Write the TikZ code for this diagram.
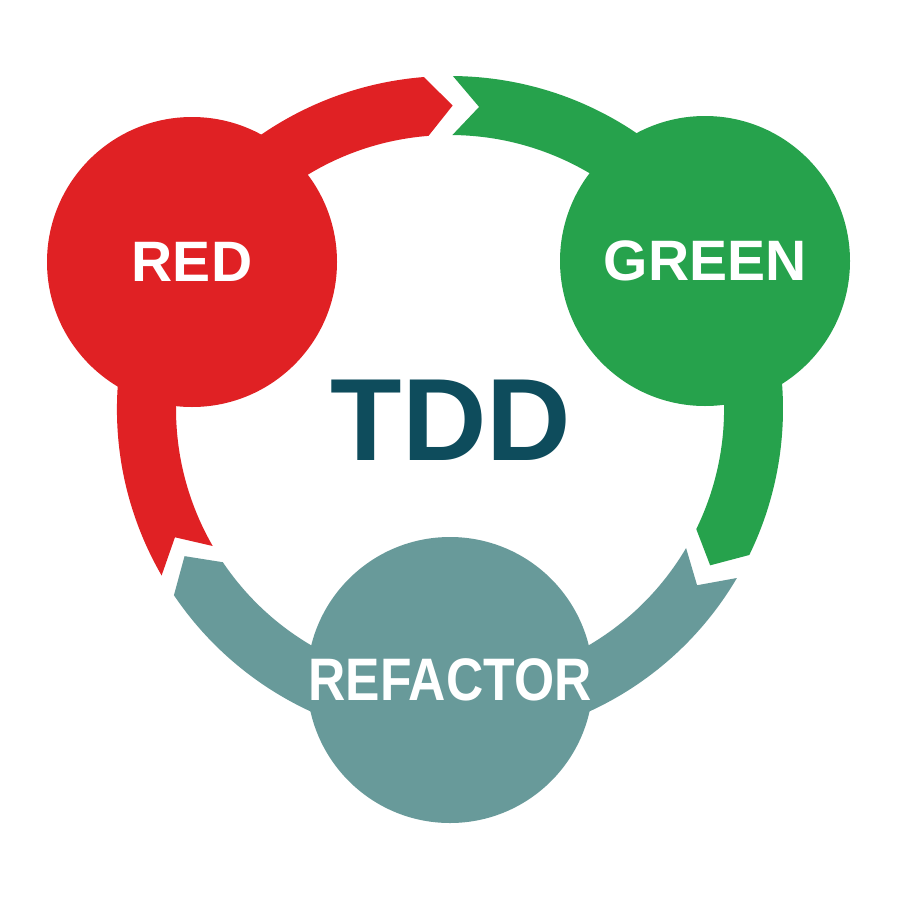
\documentclass[tikz,border=0pt]{standalone}
\usepackage{fontspec}
\usepackage{graphicx}
\setmainfont{Liberation Sans}
\usetikzlibrary{calc}
\definecolor{tddred}{RGB}{224,33,36}
\definecolor{tddgreen}{RGB}{38,162,76}
\definecolor{tddteal}{RGB}{104,154,154}
\definecolor{tddnavy}{RGB}{14,76,92}
\begin{document}
\begin{tikzpicture}[x=1pt,y=-1pt,
  phase/.style={circle,minimum size=290pt,inner sep=0pt,text=white,
    font=\bfseries\fontsize{57}{60}\selectfont}]
  \useasboundingbox[fill=white] (0,0) rectangle (900,900);
  \coordinate (c) at (450,409);
  % ring arrows: outer 333, inner 274, middle 303.5
  \foreach \a/\col in {150/tddred,270.5/tddgreen,30.5/tddteal}{
    \pgfmathsetmacro{\b}{\a+115.5}
    \pgfmathsetmacro{\tip}{\b+5}
    \pgfmathsetmacro{\notch}{\a+5}
    \fill[\col] ($(c)+(\a:333)$) arc[start angle=\a,end angle=\b,radius=333]
      -- ($(c)+(\tip:303.5)$) -- ($(c)+(\b:274)$)
      arc[start angle=\b,end angle=\a,radius=274]
      -- ($(c)+(\notch:303.5)$) -- cycle;
  }
  \node[phase,fill=tddred] (red) at (192,262) {RED};
  \node[phase,fill=tddgreen] (green) at (705,261) {GREEN};
  \node[phase,fill=tddteal,minimum size=286pt,font=\bfseries\fontsize{60}{62}\selectfont]
    (refactor) at (450,680) {\scalebox{0.86}[1]{REFACTOR}};
  \node[text=tddnavy,font=\bfseries\fontsize{117}{120}\selectfont] (tdd) at (451,420) {TDD};
\end{tikzpicture}
\end{document}
